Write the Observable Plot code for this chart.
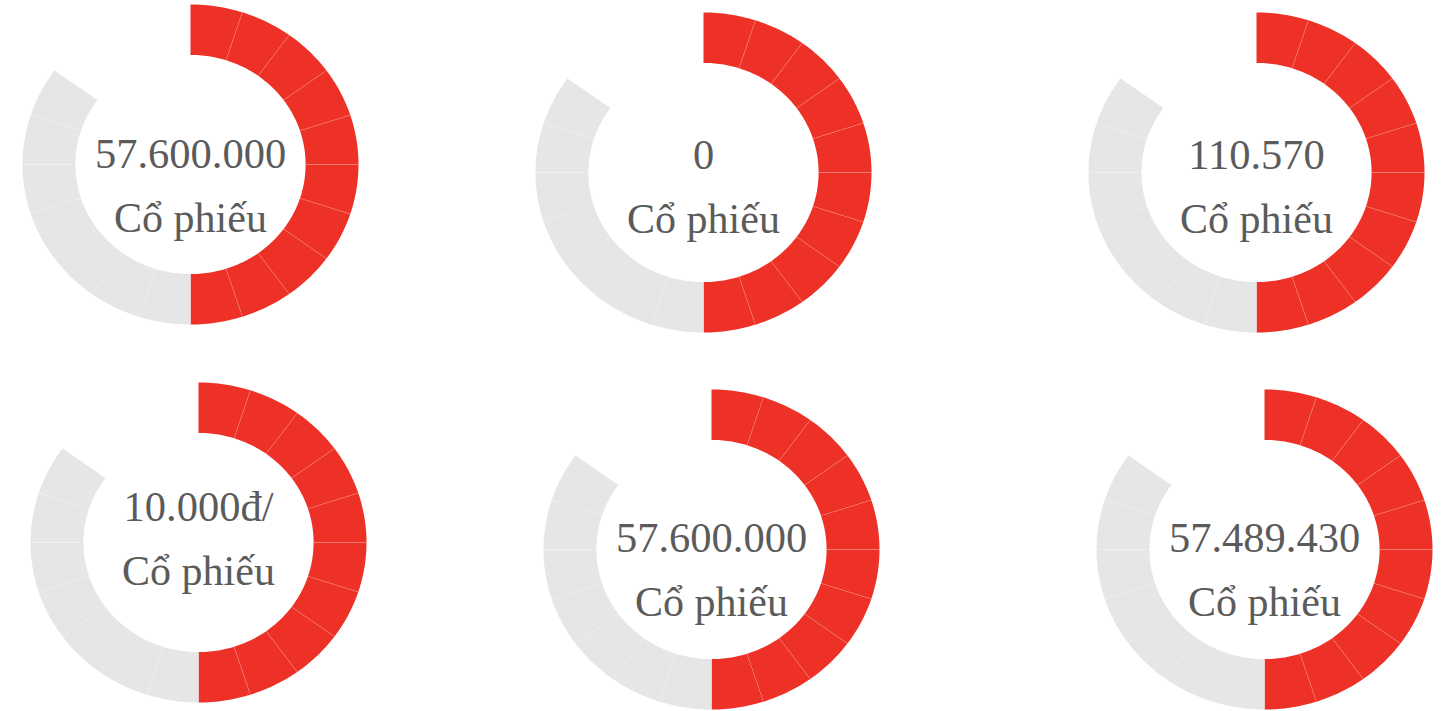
<!DOCTYPE html>
<html>
<head>
<meta charset="utf-8">
<script src="https://cdn.jsdelivr.net/npm/d3@7"></script>
<script src="https://cdn.jsdelivr.net/npm/@observablehq/plot@0.6"></script>
<style>
html, body { margin: 0; padding: 0; background: #fff; width: 1445px; height: 711px; overflow: hidden; }
#root { position: relative; width: 1445px; height: 711px; }
.panel { position: absolute; }
</style>
</head>
<body>
<div id="root"></div>
<script>
// ---- data ----
const valueLabels = ["57.600.000", "0", "110.570", "10.000đ/", "57.600.000", "57.489.430"];
const unitLabels = ["Cổ phiếu", "Cổ phiếu", "Cổ phiếu", "Cổ phiếu", "Cổ phiếu", "Cổ phiếu"];
const filledSegments = [10, 10, 10, 10, 10, 10];
const emptySegments = [7, 7, 7, 7, 7, 7];
const totalSegments = 20;

// ---- layout (page placement of each gauge) ----
const panelLeft = [20, 532.7, 1086, 28.3, 541, 1094.3];
const panelTop = [1.7, 9.5, 9.5, 379.7, 387.3, 387.3];
const textShift = [3, -3.4, -3.7, -21.7, 2.4, 2.4];
const lineGap = 64;
const innerRatio = 0.685;
const RED = "#ee3127";
const GREY = "#e6e6e6";
const TEXT = "#5b5b5b";

const root = document.getElementById("root");

valueLabels.forEach((label, g) => {
  const step = 360 / totalSegments;
  const nSeg = filledSegments[g] + emptySegments[g];
  const segs = d3.range(nSeg).map(i => ({
    id: i,
    a0: i * step,
    a1: (i + 1) * step,
    color: i < filledSegments[g] ? RED : GREY
  }));
  const rad = a => a * Math.PI / 180;
  const poly = [];
  segs.forEach(s => {
    const n = 16;
    for (let k = 0; k <= n; k++) {
      const a = rad(s.a0 + (s.a1 - s.a0) * k / n);
      poly.push({id: s.id, color: s.color, x: Math.sin(a), y: Math.cos(a)});
    }
    for (let k = n; k >= 0; k--) {
      const a = rad(s.a0 + (s.a1 - s.a0) * k / n);
      poly.push({id: s.id, color: s.color, x: innerRatio * Math.sin(a), y: innerRatio * Math.cos(a)});
    }
  });
  const borders = d3.range(1, nSeg).map(k => {
    const a = rad(k * step);
    return {x1: innerRatio * Math.sin(a), y1: innerRatio * Math.cos(a), x2: Math.sin(a), y2: Math.cos(a)};
  });
  const texts = [
    {t: label, dy: textShift[g]},
    {t: unitLabels[g], dy: textShift[g] + lineGap}
  ];

  const chart = Plot.plot({
    width: 340,
    height: 324,
    margin: 2,
    x: {domain: [-1, 1], axis: null},
    y: {domain: [-1, 1], axis: null},
    style: {background: "transparent", overflow: "visible"},
    marks: [
      Plot.line(poly, {x: "x", y: "y", z: "id", fill: "color", stroke: null, curve: "linear-closed"}),
      Plot.link(borders, {x1: "x1", y1: "y1", x2: "x2", y2: "y2", stroke: "#ffffff", strokeOpacity: 0.22, strokeWidth: 0.7}),
      Plot.text([texts[0]], {x: () => 0, y: () => 0, text: "t", dy: texts[0].dy, fontSize: 42.5, fontFamily: "Liberation Serif", fill: TEXT, textAnchor: "middle", lineAnchor: "bottom"}),
      Plot.text([texts[1]], {x: () => 0, y: () => 0, text: "t", dy: texts[1].dy, fontSize: 42, fontFamily: "Liberation Serif", fill: TEXT, textAnchor: "middle", lineAnchor: "bottom"})
    ]
  });
  const div = document.createElement("div");
  div.className = "panel";
  div.style.left = panelLeft[g] + "px";
  div.style.top = panelTop[g] + "px";
  div.appendChild(chart);
  root.appendChild(div);
});
</script>
</body>
</html>
